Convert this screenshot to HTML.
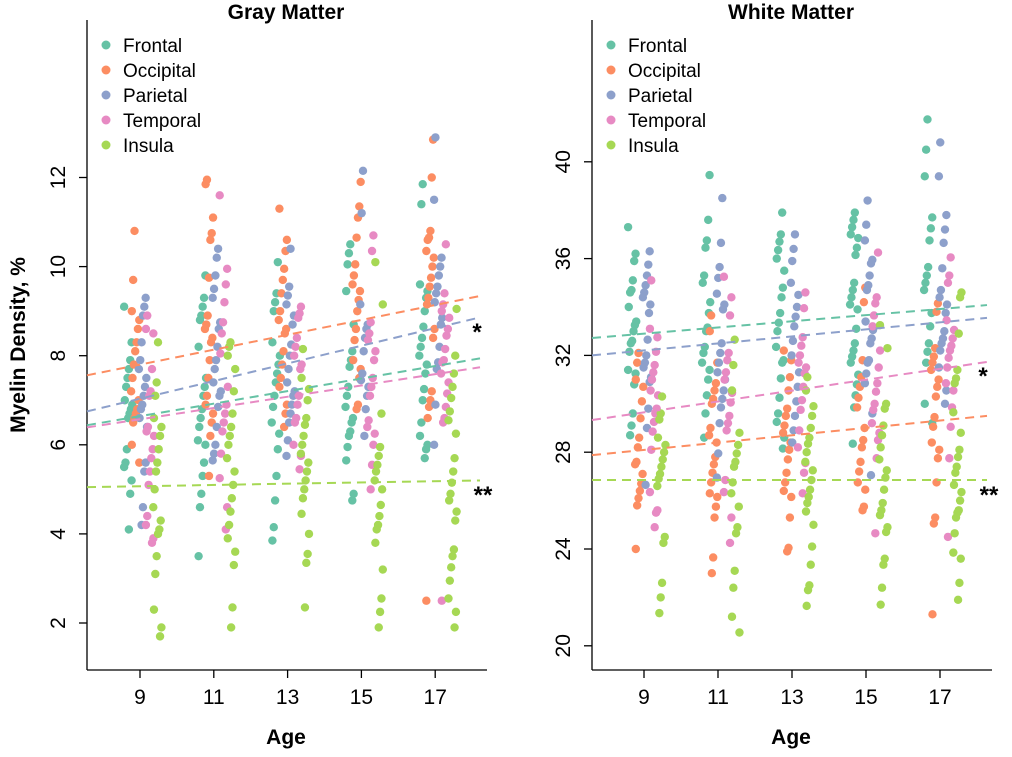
<!DOCTYPE html>
<html><head><meta charset="utf-8"><style>
html,body{margin:0;padding:0;background:#fff;}
svg{display:block;font-family:"Liberation Sans",Arial,sans-serif;}
</style></head><body>
<svg id="chart" width="1012" height="757" viewBox="0 0 1012 757" xmlns="http://www.w3.org/2000/svg"></svg>
<script>
const regions = ["Frontal","Occipital","Parietal","Temporal","Insula"];
const colors = ["#66C2A5","#FC8D62","#8DA0CB","#E78AC3","#A6D854"];
const ages = [9,11,13,15,17];
const gmTicks = [2,4,6,8,10,12];
const wmTicks = [20,24,28,32,36,40];

const gmFrontal = [
 [9.1,8.3,7.9,7.7,7.5,7.3,7.0,6.9,6.8,6.7,6.6,5.9,5.6,5.5,5.2,4.9,4.1],
 [9.8,9.3,9.1,8.9,8.8,8.2,7.5,7.3,7.1,6.8,6.6,6.4,6.1,6.0,5.6,5.3,4.9,4.6,3.5],
 [10.1,9.4,9.2,9.0,8.3,8.0,7.8,7.6,7.4,7.1,6.85,6.5,6.25,5.9,5.3,4.75,4.15,3.85],
 [10.5,10.3,10.05,9.45,8.7,8.1,7.9,7.75,7.3,7.1,6.85,6.6,6.5,6.3,6.2,5.95,5.65,4.9,4.75],
 [11.85,11.4,9.6,9.45,9.3,9.0,8.65,8.4,8.2,8.0,7.8,7.6,7.25,7.0,6.5,6.2,6.0,5.9,5.7]];
const gmOccipital = [
 [10.8,9.7,9.0,8.8,8.6,8.3,8.1,7.8,7.5,7.2,7.0,6.8,6.7,6.6,6.5,6.0,5.6],
 [11.95,11.85,11.1,10.75,10.6,9.75,8.9,8.7,8.6,8.4,8.3,7.9,7.5,7.1,6.9,6.7,6.5,6.2,5.3],
 [11.3,10.6,10.35,9.95,9.7,9.4,9.0,8.8,8.6,8.5,8.1,7.8,7.5,7.3,6.9,6.7,6.4],
 [11.9,11.35,11.1,10.65,10.05,9.8,9.6,9.45,9.25,9.0,8.6,8.35,7.9,7.7,7.5,6.9,6.8],
 [12.85,12.0,10.8,10.65,10.6,10.35,10.2,10.0,9.75,9.55,9.3,9.15,8.6,8.4,7.2,7.0,6.85,6.6,2.5]];
const gmParietal = [
 [9.3,9.1,8.9,8.3,7.9,7.7,7.5,7.3,7.1,6.9,6.8,6.6,6.4,5.6,5.4,4.6,4.2],
 [10.4,10.2,9.8,9.5,9.3,8.75,8.6,8.2,7.9,7.7,7.4,7.2,7.1,6.85,6.4,6.0,5.8,5.65],
 [10.4,9.55,9.35,9.15,8.9,8.7,8.25,8.0,7.7,7.4,7.2,7.1,6.9,6.7,6.5,6.1,5.75],
 [12.15,11.2,9.15,8.7,8.6,8.4,8.1,7.6,7.45,7.3,7.1,6.8,6.2],
 [12.9,11.5,10.2,10.0,9.8,9.55,9.4,9.2,8.85,8.7,8.2,7.85,7.7,6.9,6.0]];
const gmTemporal = [
 [8.9,8.6,8.5,7.7,7.2,7.1,6.4,6.3,6.2,5.9,5.7,5.4,5.1,4.4,4.2,3.9,3.8],
 [11.6,9.95,9.6,9.2,8.75,8.5,8.05,7.3,6.9,6.7,6.5,6.3,5.8,5.25,4.6,4.1],
 [9.1,8.95,8.85,8.4,8.2,8.0,7.8,7.7,7.1,6.9,6.6,6.5,6.0,5.75,5.45],
 [10.7,10.35,8.75,8.5,8.35,8.1,7.9,7.5,7.3,7.1,6.55,6.4,6.25,6.0,5.55,5.0],
 [10.5,9.4,9.15,9.0,8.85,8.6,8.45,8.15,7.9,7.85,7.6,7.4,7.15,6.85,6.6,6.5,2.5]];
const gmInsula = [
 [8.3,7.4,7.1,6.6,6.4,6.2,5.9,5.6,5.4,5.0,4.6,4.3,4.1,4.0,3.5,3.1,2.3,1.9,1.7],
 [8.3,8.2,8.0,7.7,7.2,6.7,6.4,6.2,6.0,5.7,5.4,5.1,4.8,4.5,4.2,3.9,3.6,3.3,2.35,1.9],
 [8.15,7.5,7.25,7.0,6.6,6.45,6.2,6.0,5.8,5.6,5.4,5.2,5.0,4.8,4.45,4.0,3.55,3.35,2.35],
 [10.1,9.15,6.7,5.95,5.75,5.55,5.4,5.2,5.0,4.65,4.4,4.2,4.1,3.8,3.2,2.55,2.25,1.9],
 [9.05,8.0,7.6,7.3,7.05,6.75,6.55,6.25,5.7,5.4,5.15,4.9,4.75,4.5,4.3,3.65,3.5,3.25,2.95,2.55,2.25,1.9]];

const wmFrontal = [
 [37.3,36.2,35.9,35.1,34.7,34.6,34.0,33.4,33.25,33.0,32.6,32.5,32.15,31.4,31.25,30.8,29.6,29.1,28.7],
 [39.45,37.6,36.75,36.45,35.3,35.0,34.2,33.75,33.15,33.0,32.35,32.1,31.7,31.4,31.0,30.35,29.6,28.6],
 [37.9,37.0,36.7,36.35,36.0,35.5,34.8,34.4,33.75,33.35,33.0,32.35,31.8,31.7,31.05,30.25,29.6,29.25,28.6,28.15],
 [37.9,37.6,37.3,37.0,36.85,36.45,36.15,35.0,34.7,34.4,34.1,33.9,33.1,32.5,32.2,31.95,31.7,31.2,30.8,30.35,29.85,28.35],
 [41.75,40.5,39.4,37.7,37.25,36.75,35.65,35.3,35.0,34.7,33.75,33.2,32.5,32.15,31.7,30.0,29.2]];
const wmOccipital = [
 [32.1,31.7,31.0,30.7,30.1,29.4,28.6,28.2,27.6,27.5,27.1,26.7,26.4,26.1,25.8,24.0],
 [33.65,33.0,31.7,30.85,30.55,30.2,30.0,29.0,28.7,28.4,27.8,27.5,27.15,26.75,26.3,26.15,25.75,25.3,23.65,23.0],
 [32.2,31.8,31.1,30.55,29.8,29.5,29.1,28.8,28.4,28.1,27.7,27.15,26.75,26.4,26.15,25.3,24.05,23.9],
 [34.8,34.2,31.8,31.1,30.7,30.25,29.85,29.0,28.5,28.2,27.6,27.2,26.75,26.45,25.75,25.6],
 [34.15,33.8,32.3,31.95,31.7,31.4,31.0,30.7,30.3,29.45,29.05,28.4,28.1,27.75,26.75,25.3,25.05,21.3]];
const wmParietal = [
 [36.3,35.75,35.3,34.9,34.6,34.4,34.1,33.75,32.65,32.0,31.7,31.5,31.1,30.9,29.8,29.0,26.65],
 [38.5,36.65,35.65,35.2,34.55,34.1,33.9,32.5,32.1,31.7,31.3,31.0,30.55,30.2,29.85,29.2,27.95,26.95],
 [37.0,36.4,35.9,35.0,34.5,34.0,33.6,33.2,32.6,32.0,31.3,30.7,30.1,29.5,28.9,28.4],
 [38.4,37.4,36.75,35.95,35.8,35.3,34.9,34.7,33.4,33.05,32.7,32.5,31.8,31.7,31.25,30.85,29.6,27.05],
 [40.8,39.4,37.8,37.2,36.65,35.6,34.7,34.4,34.1,33.75,33.0,32.7,32.5,32.2,31.5,30.55,30.0]];
const wmTemporal = [
 [35.1,33.1,32.75,32.15,31.6,31.3,31.0,30.55,30.35,29.8,29.6,29.25,28.85,28.1,26.35,25.6,25.5,24.9],
 [35.25,34.4,33.65,32.1,31.8,31.3,31.0,30.45,30.05,29.5,29.2,28.9,26.85,26.35,25.3,24.25],
 [34.6,33.95,32.75,32.4,32.0,31.7,31.5,31.25,30.7,30.15,29.75,28.9,28.2,27.55,27.15,26.3],
 [36.25,34.4,34.15,33.65,33.2,32.2,31.5,30.85,30.5,30.0,29.75,29.2,28.8,28.5,27.75,24.65],
 [36.05,35.3,35.0,33.45,33.05,32.7,32.4,32.2,31.9,31.5,30.85,30.55,29.85,29.05,27.75,24.5]];
const wmInsula = [
 [30.3,29.6,29.35,28.6,28.3,28.0,27.7,27.4,27.1,26.9,26.6,24.5,24.25,22.6,22.0,21.35],
 [32.65,31.6,30.55,28.8,28.3,27.95,27.6,27.4,26.75,26.3,25.75,24.9,24.65,23.1,22.4,21.2,20.55],
 [31.1,30.55,29.9,29.5,29.0,28.6,28.35,28.0,27.6,27.25,26.85,26.45,26.15,25.9,25.55,25.0,24.1,23.35,22.5,22.3,21.65],
 [33.25,32.3,30.0,29.8,29.1,28.7,28.2,27.7,27.25,26.95,26.45,25.9,25.6,25.4,24.9,24.7,23.6,23.35,22.4,21.7],
 [34.6,34.4,32.9,31.4,31.05,30.85,29.65,28.8,28.1,27.8,27.4,27.15,26.65,26.35,26.0,25.6,25.5,25.3,24.65,23.85,23.6,22.6,21.9]];

const gmTrendStart = [6.44,7.56,6.75,6.39,5.05];
const gmTrendEnd   = [7.94,9.34,8.86,7.74,5.20];
const wmTrendStart = [32.72,27.88,32.0,29.33,26.85];
const wmTrendEnd   = [34.08,29.5,33.55,31.73,26.85];

const svg = document.getElementById('chart');
const NS = 'http://www.w3.org/2000/svg';
function mk(tag, attrs, parent){
  const e = document.createElementNS(NS, tag);
  for (const k in attrs) e.setAttribute(k, attrs[k]);
  (parent||svg).appendChild(e);
  return e;
}
const offsets = [-0.32,-0.13,0.08,0.27,0.47];

function panel(cfg){
  const g = mk('g', {});
  
  
  const xs = a => cfg.x0 + (a - 9) * cfg.pxYear;
  const ys = v => cfg.yRef - (v - cfg.vRef) * cfg.pxUnit;
  const t = mk('text', {x:cfg.cx, y:19, 'text-anchor':'middle', 'font-size':'21', 'font-weight':'bold'}, g);
  t.textContent = cfg.title;
  
  
  const ya = mk('line', {x1:cfg.axL, y1:20, x2:cfg.axL, y2:670, stroke:'#000', 'stroke-width':1.3}, g);
  
  
  const xa = mk('line', {x1:cfg.axL, y1:670, x2:cfg.axR, y2:670, stroke:'#000', 'stroke-width':1.3}, g);
  
  
  cfg.ticks.forEach(v => {
    const y = ys(v);
    mk('line', {x1:cfg.axL-8, y1:y, x2:cfg.axL, y2:y, stroke:'#000', 'stroke-width':1.3}, g);
    const bx = cfg.axL - 22;
    const tl = mk('text', {x:bx, y:y, 'text-anchor':'middle', 'font-size':'21', transform:`rotate(-90 ${bx} ${y})`}, g);
    tl.textContent = v;
    
    
  });
  ages.forEach(a => {
    const x = xs(a);
    mk('line', {x1:x, y1:670, x2:x, y2:678, stroke:'#000', 'stroke-width':1.3}, g);
    const tl = mk('text', {x:x, y:704, 'text-anchor':'middle', 'font-size':'21'}, g);
    tl.textContent = a;
    
    
  });
  const xl = mk('text', {x:cfg.cx, y:744, 'text-anchor':'middle', 'font-size':'21', 'font-weight':'bold'}, g);
  xl.textContent = 'Age';
  
  
  cfg.series.forEach((ser, r) => {
    ser.forEach((vals, ai) => {
      vals.forEach((v, i) => {
        const j = (((i * 37 + ai * 11 + r * 5) % 13) / 12 - 0.5) * 0.22;
        const c = mk('circle', {cx: xs(ages[ai] + offsets[r] + j), cy: ys(v), r: 4.2, fill: colors[r]}, g);
        
        
      });
    });
  });
  const a0 = 9 + (cfg.axL - cfg.x0) / cfg.pxYear;
  const a1 = 9 + (cfg.lineR - cfg.x0) / cfg.pxYear;
  regions.forEach((rn, r) => {
    const l = mk('line', {x1:xs(a0), y1:ys(cfg.tStart[r]), x2:xs(a1), y2:ys(cfg.tEnd[r]), stroke:colors[r], 'stroke-width':2, 'stroke-dasharray':'9 6'}, g);
    
    
  });
  cfg.stars.forEach(s => {
    const st = mk('text', {x:s[0], y:s[1], 'text-anchor':'middle', 'font-size':'24', 'font-weight':'bold'}, g);
    st.textContent = s[2];
    
    
  });
  regions.forEach((rn, r) => {
    const y = 45 + r * 25;
    const d = mk('circle', {cx:cfg.axL+19, cy:y, r:4.5, fill:colors[r]}, g);
    
    
    const lt = mk('text', {x:cfg.axL+36, y:y+7, 'font-size':'19'}, g);
    lt.textContent = rn;
    
    
  });
}

panel({name:'gray-matter-panel', title:'Gray Matter', cx:286, axL:87, axR:487, lineR:480,
  x0:140, pxYear:36.9, yRef:623, vRef:2, pxUnit:44.55, ticks:gmTicks,
  series:[gmFrontal,gmOccipital,gmParietal,gmTemporal,gmInsula],
  tStart:gmTrendStart, tEnd:gmTrendEnd, stars:[[477,340,'*'],[483,503,'**']]});
panel({name:'white-matter-panel', title:'White Matter', cx:791, axL:592, axR:992, lineR:987,
  x0:644, pxYear:37, yRef:549, vRef:24, pxUnit:24.2, ticks:wmTicks,
  series:[wmFrontal,wmOccipital,wmParietal,wmTemporal,wmInsula],
  tStart:wmTrendStart, tEnd:wmTrendEnd, stars:[[983,384,'*'],[989,503,'**']]});

const yt = mk('text', {x:0, y:0, 'text-anchor':'middle', 'font-size':'21', 'font-weight':'bold', transform:'translate(25 345) rotate(-90)'});
yt.textContent = 'Myelin Density, %';


</script>
</body></html>
